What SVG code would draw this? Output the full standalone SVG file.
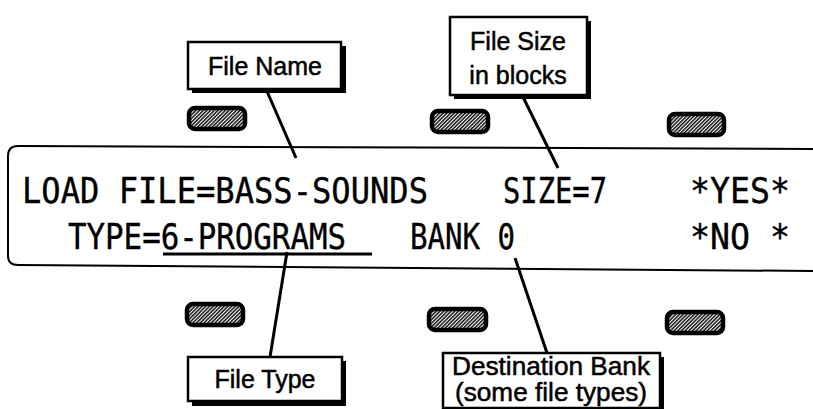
<svg xmlns="http://www.w3.org/2000/svg" width="813" height="409" viewBox="0 0 813 409">
<defs>
<pattern id="hatch" width="2.6" height="2.6" patternUnits="userSpaceOnUse" patternTransform="rotate(45)">
<rect width="2.6" height="2.6" fill="#fff"/>
<rect width="1.5" height="2.6" fill="#111"/>
</pattern>
</defs>
<style>
.lbl{font-family:"Liberation Sans",Arial,sans-serif;font-size:25px;fill:#000;stroke:#000;stroke-width:0.5;text-anchor:middle}
.lcd{font-family:"DejaVu Sans Mono","Liberation Mono",monospace;font-size:36px;fill:#000;stroke:#000;stroke-width:0.4}
.box{fill:#fff;stroke:#000;stroke-width:2.5}
.shadow{fill:#000}
.btn{fill:url(#hatch);stroke:#000;stroke-width:4.5}
.lead{stroke:#000;stroke-width:3;fill:none}
</style>
<rect width="813" height="409" fill="#fff"/>

<g id="display">
<path d="M813,149 L18,146 Q8,146 8,156 L8,256 Q8,265 18,265 L813,271" fill="none" stroke="#000" stroke-width="2"/>
<text class="lcd" x="22" y="203" textLength="406" lengthAdjust="spacingAndGlyphs">LOAD FILE=BASS-SOUNDS</text>
<text class="lcd" x="503" y="203" textLength="104" lengthAdjust="spacingAndGlyphs">SIZE=7</text>
<text class="lcd" x="690" y="203" textLength="100" lengthAdjust="spacingAndGlyphs">*YES*</text>
<text class="lcd" x="68" y="249" textLength="278" lengthAdjust="spacingAndGlyphs">TYPE=6-PROGRAMS</text>
<text class="lcd" x="410" y="249" textLength="105" lengthAdjust="spacingAndGlyphs">BANK 0</text>
<text class="lcd" x="690" y="249" textLength="100" lengthAdjust="spacingAndGlyphs">*NO *</text>
<line x1="163" y1="254" x2="372" y2="254" stroke="#000" stroke-width="3"/>
</g>

<g id="buttons">
<rect class="btn" x="189" y="108" width="56" height="21" rx="6"/>
<rect class="btn" x="432" y="111" width="56" height="21" rx="6"/>
<rect class="btn" x="669" y="114" width="55" height="21" rx="6"/>
<rect class="btn" x="187" y="304" width="56" height="21" rx="6"/>
<rect class="btn" x="429" y="309" width="57" height="21" rx="6"/>
<rect class="btn" x="667" y="312" width="56" height="21" rx="6"/>
</g>

<g id="connectors">
<line class="lead" x1="266" y1="89" x2="296" y2="158"/>
<line class="lead" x1="522" y1="95" x2="558" y2="168"/>
<line class="lead" x1="287" y1="252" x2="270" y2="357"/>
<line class="lead" x1="515" y1="258" x2="547" y2="353"/>
</g>

<g id="file-name">
<rect class="shadow" x="192" y="46" width="154" height="47"/>
<rect class="box" x="188" y="42" width="153" height="47"/>
<text class="lbl" x="265" y="75">File Name</text>
</g>

<g id="file-size">
<rect class="shadow" x="454" y="21" width="137" height="78"/>
<rect class="box" x="450" y="17" width="137" height="78"/>
<text class="lbl" x="518" y="50">File Size</text>
<text class="lbl" x="518" y="84">in blocks</text>
</g>

<g id="file-type">
<rect class="shadow" x="192" y="361" width="154" height="45"/>
<rect class="box" x="188" y="357" width="154" height="44"/>
<text class="lbl" x="265" y="388">File Type</text>
</g>

<g id="dest-bank">
<rect class="shadow" x="447" y="357" width="217" height="56"/>
<rect class="box" x="443" y="353" width="217" height="55"/>
<text class="lbl" x="551" y="375" font-size="21" textLength="198" lengthAdjust="spacingAndGlyphs">Destination Bank</text>
<text class="lbl" x="551" y="401" font-size="21" textLength="192" lengthAdjust="spacingAndGlyphs">(some file types)</text>
</g>
</svg>
